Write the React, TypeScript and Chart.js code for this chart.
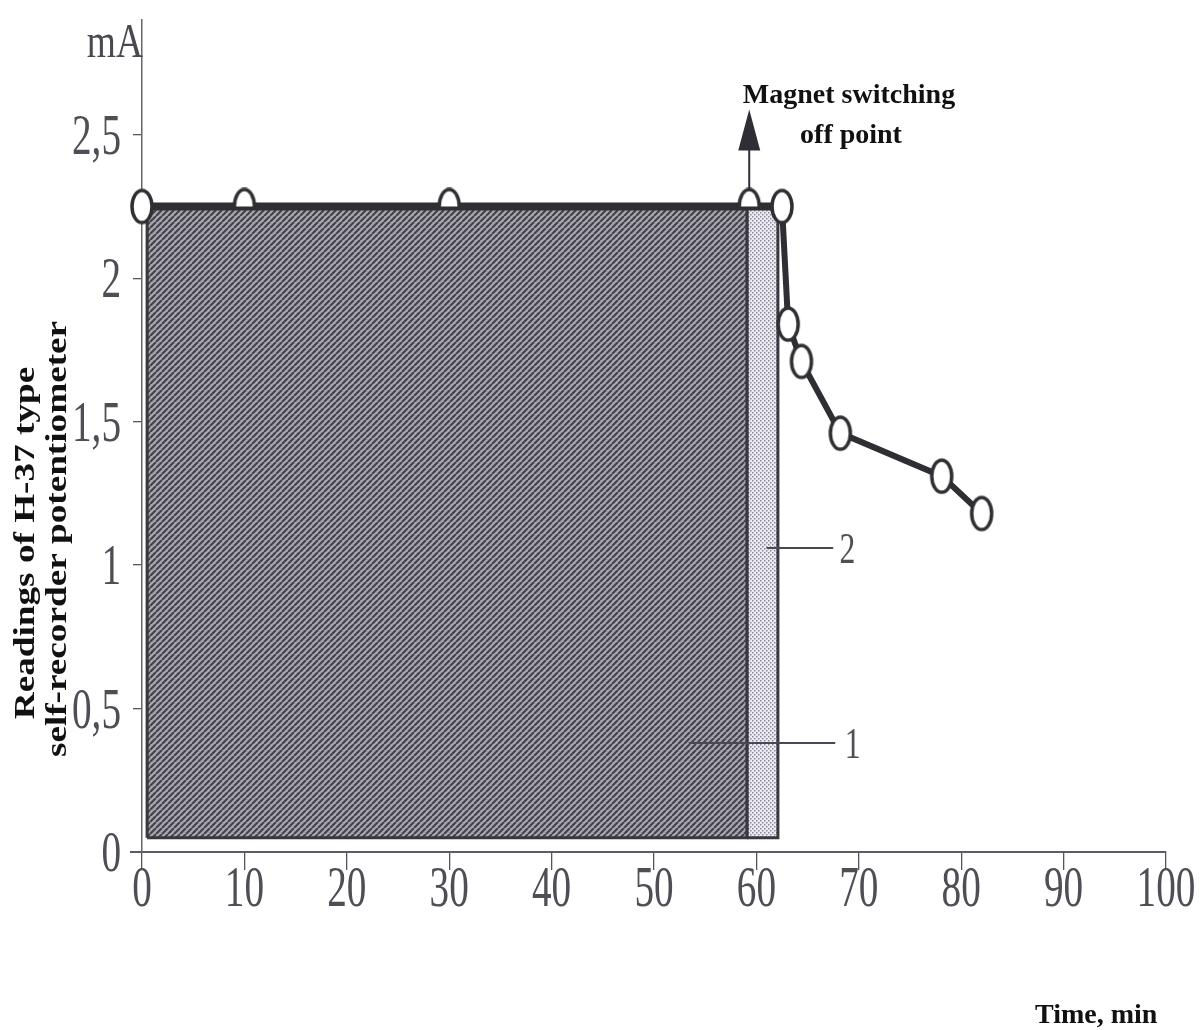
import React, { useEffect, useRef } from "react";
import { Chart, registerables } from "chart.js";

Chart.register(...registerables);

// ---- data ----
const TIME_MIN = [0, 10, 30, 59.3, 62.5, 63.1, 64.4, 68.2, 78.1, 82.0];
const CURRENT_MA = [2.25, 2.25, 2.25, 2.25, 2.25, 1.84, 1.71, 1.46, 1.31, 1.18];
const BLOCK1_X = [0.5, 59.1];
const BLOCK2_X = [59.1, 62.1];
const BLOCK_Y = [0.05, 2.25];
const SWITCH_OFF_TIME = 59.3;
const X_TICKS = [0, 10, 20, 30, 40, 50, 60, 70, 80, 90, 100];
const X_TICK_LABELS = ["0", "10", "20", "30", "40", "50", "60", "70", "80", "90", "100"];
const Y_TICKS = [0, 0.5, 1, 1.5, 2, 2.5];
const Y_TICK_LABELS = ["0", "0,5", "1", "1,5", "2", "2,5"];
const LABEL_1 = { x0: 53.4, x1: 67.7, y: 0.38, textX: 69.4, text: "1" };
const LABEL_2 = { x0: 61.0, x1: 67.5, y: 1.06, textX: 68.9, text: "2" };

function rectPoints(xs: number[], ys: number[]) {
  return [
    { x: xs[0], y: ys[0] },
    { x: xs[0], y: ys[1] },
    { x: xs[1], y: ys[1] },
    { x: xs[1], y: ys[0] },
    { x: xs[0], y: ys[0] },
  ];
}

function hatchPattern(ctx: CanvasRenderingContext2D) {
  const c = document.createElement("canvas");
  c.width = 6;
  c.height = 6;
  const g = c.getContext("2d")!;
  g.fillStyle = "#a8a6ae";
  g.fillRect(0, 0, 6, 6);
  g.strokeStyle = "#45434d";
  g.lineWidth = 2.2;
  g.beginPath();
  for (let k = -6; k <= 12; k += 6) {
    g.moveTo(k, 6);
    g.lineTo(k + 6, 0);
  }
  g.stroke();
  return ctx.createPattern(c, "repeat")!;
}

function dotPattern(ctx: CanvasRenderingContext2D) {
  const c = document.createElement("canvas");
  c.width = 4;
  c.height = 4;
  const g = c.getContext("2d")!;
  g.fillStyle = "#ececf0";
  g.fillRect(0, 0, 4, 4);
  g.fillStyle = "#8a8896";
  g.fillRect(0, 0, 1.5, 1.5);
  g.fillRect(2, 2, 1.5, 1.5);
  return ctx.createPattern(c, "repeat")!;
}

function ellipseMarker(half: boolean) {
  const w = 26;
  const h = 38;
  const c = document.createElement("canvas");
  c.width = w;
  c.height = h;
  const g = c.getContext("2d")!;
  g.lineWidth = 3.5;
  g.strokeStyle = "#303034";
  g.fillStyle = "#ffffff";
  g.beginPath();
  if (half) {
    g.ellipse(w / 2, h / 2, 10, 17, 0, Math.PI, 2 * Math.PI);
  } else {
    g.ellipse(w / 2, h / 2, 10, 16, 0, 0, 2 * Math.PI);
  }
  g.fill();
  g.stroke();
  return c;
}

export default function App() {
  const ref = useRef<HTMLCanvasElement | null>(null);

  useEffect(() => {
    const canvas = ref.current!;
    const ctx = canvas.getContext("2d")!;
    const fullMarker = ellipseMarker(false);
    const halfMarker = ellipseMarker(true);

    const annotations = {
      id: "annotations",
      afterDraw(chart: any) {
        const c = chart.ctx as CanvasRenderingContext2D;
        const xs = chart.scales.x;
        const ys = chart.scales.y;
        const area = chart.chartArea;
        c.save();

        // x axis extension to the left
        c.strokeStyle = "#5c5a70";
        c.lineWidth = 2;
        c.beginPath();
        c.moveTo(130, area.bottom);
        c.lineTo(area.left, area.bottom);
        c.stroke();

        // tick labels (condensed serif)
        c.fillStyle = "#4f4e56";
        c.font = '56px "Liberation Serif"';
        c.textBaseline = "alphabetic";
        X_TICKS.forEach((v, i) => {
          const px = xs.getPixelForValue(v);
          c.save();
          c.translate(px, area.bottom + 54);
          c.scale(0.7, 1);
          c.textAlign = "center";
          c.fillText(X_TICK_LABELS[i], 0, 0);
          c.restore();
        });
        Y_TICKS.forEach((v, i) => {
          const py = ys.getPixelForValue(v);
          c.save();
          c.translate(area.left - 21, py + 19);
          c.scale(0.7, 1);
          c.textAlign = "right";
          c.fillText(Y_TICK_LABELS[i], 0, 0);
          c.restore();
        });

        // unit label
        c.save();
        c.fillStyle = "#4a4951";
        c.font = '48px "Liberation Serif"';
        c.translate(area.left + 1, 57);
        c.scale(0.78, 1);
        c.textAlign = "right";
        c.fillText("mA", 0, 0);
        c.restore();

        // arrow at switching-off point
        const ax = xs.getPixelForValue(SWITCH_OFF_TIME);
        const ay = ys.getPixelForValue(CURRENT_MA[3]);
        c.strokeStyle = "#2e2e34";
        c.fillStyle = "#2e2e34";
        c.lineWidth = 2;
        c.beginPath();
        c.moveTo(ax, ay - 16);
        c.lineTo(ax, ay - 58);
        c.stroke();
        c.beginPath();
        c.moveTo(ax, ay - 97);
        c.lineTo(ax - 11, ay - 56);
        c.lineTo(ax + 11, ay - 56);
        c.closePath();
        c.fill();

        // annotation text
        c.fillStyle = "#111111";
        c.font = 'bold 28px "Liberation Serif"';
        c.textAlign = "center";
        c.fillText("Magnet switching", 849, 103);
        c.fillText("off point", 851, 143);

        // leader lines 1 and 2
        c.strokeStyle = "#4a4858";
        c.lineWidth = 2;
        [LABEL_1, LABEL_2].forEach((L) => {
          const py = ys.getPixelForValue(L.y);
          c.beginPath();
          c.moveTo(xs.getPixelForValue(L.x0), py);
          c.lineTo(xs.getPixelForValue(L.x1), py);
          c.stroke();
          c.save();
          c.fillStyle = "#4f4e56";
          c.font = '44px "Liberation Serif"';
          c.translate(xs.getPixelForValue(L.textX), py + 15);
          c.scale(0.72, 1);
          c.textAlign = "center";
          c.fillText(L.text, 0, 0);
          c.restore();
        });

        // x axis title
        c.fillStyle = "#111111";
        c.font = 'bold 28px "Liberation Serif"';
        c.textAlign = "left";
        c.fillText("Time, min", 1035, 1023);

        // y axis title (rotated, stretched)
        c.textAlign = "center";
        c.textBaseline = "middle";
        c.font = 'bold 30px "Liberation Serif"';
        [
          { t: "Readings of H-37 type", x: 26, y: 543 },
          { t: "self-recorder potentiometer", x: 58, y: 539 },
        ].forEach((L) => {
          c.save();
          c.translate(L.x, L.y);
          c.rotate(-Math.PI / 2);
          c.scale(1.24, 1);
          c.fillText(L.t, 0, 0);
          c.restore();
        });

        c.restore();
      },
    };

    const chart = new Chart(canvas, {
      type: "scatter",
      data: {
        datasets: [
          {
            label: "current",
            data: TIME_MIN.map((x, i) => ({ x, y: CURRENT_MA[i] })),
            showLine: true,
            borderColor: "#2e2e33",
            borderWidth: 6,
            segment: {
              borderWidth: (s: any) => (s.p0.parsed.y > 2.2 && s.p1.parsed.y > 2.2 ? 8 : 6),
            },
            tension: 0,
            pointStyle: (pc: any) => {
              const x = pc.raw ? pc.raw.x : -1;
              return x >= BLOCK1_X[0] && x <= BLOCK2_X[1] ? halfMarker : fullMarker;
            },
            pointRadius: 12,
            clip: false,
          } as any,
          {
            label: "block2",
            data: rectPoints(BLOCK2_X, BLOCK_Y),
            showLine: true,
            fill: "shape",
            backgroundColor: dotPattern(ctx),
            borderColor: "#38383e",
            borderWidth: 3,
            borderJoinStyle: "miter",
            pointRadius: 0,
            tension: 0,
          } as any,
          {
            label: "block1",
            data: rectPoints(BLOCK1_X, BLOCK_Y),
            showLine: true,
            fill: "shape",
            backgroundColor: hatchPattern(ctx),
            borderColor: "#38383e",
            borderWidth: 3,
            borderJoinStyle: "miter",
            pointRadius: 0,
            tension: 0,
          } as any,
        ],
      },
      options: {
        responsive: false,
        animation: false,
        events: [],
        devicePixelRatio: 1,
        layout: { padding: { left: 133, right: 37, top: 20, bottom: 160 } },
        plugins: {
          legend: { display: false },
          tooltip: { enabled: false },
        },
        scales: {
          x: {
            type: "linear",
            min: 0,
            max: 100,
            afterBuildTicks: (a: any) => {
              a.ticks = X_TICKS.map((v) => ({ value: v }));
            },
            ticks: { display: false },
            grid: {
              display: true,
              drawOnChartArea: false,
              drawTicks: true,
              tickLength: 18,
              color: "#55555f",
              lineWidth: 1.3,
            },
            border: { display: true, color: "#5c5a70", width: 2 },
          },
          y: {
            type: "linear",
            min: 0,
            max: 2.9,
            afterBuildTicks: (a: any) => {
              a.ticks = Y_TICKS.map((v) => ({ value: v }));
            },
            ticks: { display: false },
            grid: {
              display: true,
              drawOnChartArea: false,
              drawTicks: true,
              tickLength: 9,
              color: "#55555f",
              lineWidth: 1.3,
            },
            border: { display: true, color: "#66666e", width: 1.5 },
          },
        },
      } as any,
      plugins: [annotations],
    });

    return () => chart.destroy();
  }, []);

  return (
    <div
      style={{
        position: "absolute",
        left: 0,
        top: 0,
        width: 1203,
        height: 1030,
        background: "#ffffff",
      }}
    >
      <canvas ref={ref} width={1203} height={1030} style={{ display: "block" }} />
    </div>
  );
}
